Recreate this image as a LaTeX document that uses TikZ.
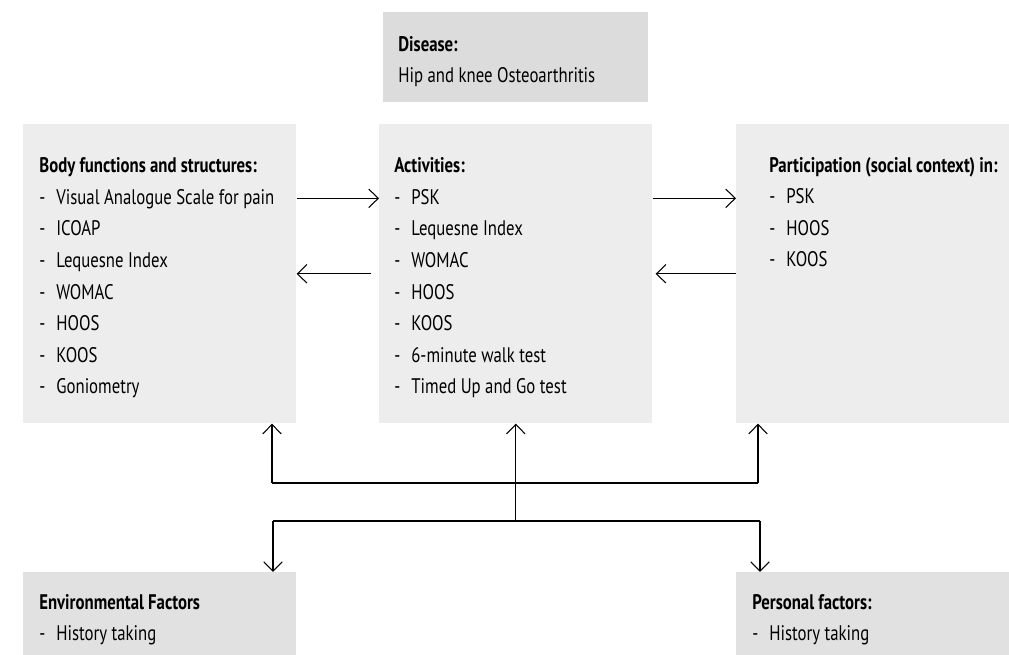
\documentclass[tikz,border=0pt]{standalone}
\usepackage{fontspec}
\setmainfont{PT Sans}[FakeStretch=0.795]
\usetikzlibrary{arrows.meta,calc}
\definecolor{boxgray}{HTML}{EDEDED}
\definecolor{disgray}{HTML}{DCDCDC}
\definecolor{factgray}{HTML}{E1E1E1}
\tikzset{
	box/.style={fill=boxgray, anchor=north west, inner sep=0pt, minimum width=5.46cm, minimum height=5.98cm},
	txt/.style={anchor=base west, align=left, inner sep=0pt, font=\fontsize{12}{18}\selectfont},
	arr/.style={-{Straight Barb[length=0.19cm,width=0.37cm]}, line width=0.6pt},
	link/.style={line width=0.6pt}
}
\newcommand{\itm}[1]{\makebox[0.34cm][l]{-}#1}

\begin{document}
\begin{tikzpicture}[x=0.02cm, y=-0.02cm]
			%%%%% START %%%%%
			\useasboundingbox (0, 0) rectangle (1009, 655);
			
			% texts are placed at the baseline of their last line
			\node[box, fill=disgray, minimum width=5.30cm, minimum height=1.80cm] (dis) at (383, 12) {};
			\node[txt] (dis-t) at (398, 83) {\textbf{Disease:}\\Hip and knee Osteoarthritis};
			
			\node[box] (body) at (23, 124) {};
			\node[txt] (body-t) at (39, 394) {\textbf{Body functions and structures:}\\
				\itm{Visual Analogue Scale for pain}\\ \itm{ICOAP}\\ \itm{Lequesne Index}\\
				\itm{WOMAC}\\ \itm{HOOS}\\ \itm{KOOS}\\ \itm{Goniometry}};
			
			\node[box] (act) at (379, 124) {};
			\node[txt] (act-t) at (394, 394) {\textbf{Activities:}\\
				\itm{PSK}\\ \itm{Lequesne Index}\\ \itm{WOMAC}\\ \itm{HOOS}\\
				\itm{KOOS}\\ \itm{6-minute walk test}\\ \itm{Timed Up and Go test}};
			
			\node[box] (part) at (736, 124) {};
			\node[txt] (part-t) at (769, 267) {\textbf{Participation (social context) in:}\\
				\itm{PSK}\\ \itm{HOOS}\\ \itm{KOOS}};
			
			\node[box, fill=factgray, minimum height=1.66cm] (env) at (23, 572) {};
			\node[txt] (env-t) at (39, 641) {\textbf{Environmental Factors}\\ \itm{History taking}};
			
			\node[box, fill=factgray, minimum height=1.66cm] (pers) at (736, 572) {};
			\node[txt] (pers-t) at (752, 641) {\textbf{Personal factors:}\\ \itm{History taking}};
			
			% arrows between the top boxes
			\draw[arr] ([yshift=1.51cm]body.east) -- ([yshift=1.51cm]act.west);
			\draw[arr] ([xshift=-0.16cm]act.west) -- (body.east);
			\draw[arr] ([yshift=1.51cm]act.east) -- ([yshift=1.51cm]part.west);
			\draw[arr] (part.west) -- ([xshift=0.06cm]act.east);
			
			% branching lines
			\coordinate (up-l) at (272, 483);
			\coordinate (up-r) at (758, 483);
			\coordinate (dn-l) at (273, 521);
			\coordinate (dn-r) at (760, 521);
			
			\draw[link] (up-l) -- (up-r);
			\draw[arr] (up-l) -- (up-l |- body.south);
			\draw[arr] (up-r) -- (up-r |- part.south);
			\draw[arr] (act.south |- dn-l) -- (act.south);
			\draw[link] (dn-l) -- (dn-r);
			\draw[arr] (dn-l) -- (dn-l |- env.north);
			\draw[arr] (dn-r) -- (dn-r |- pers.north);
			
			%%%%% END %%%%%
\end{tikzpicture}
\end{document}
